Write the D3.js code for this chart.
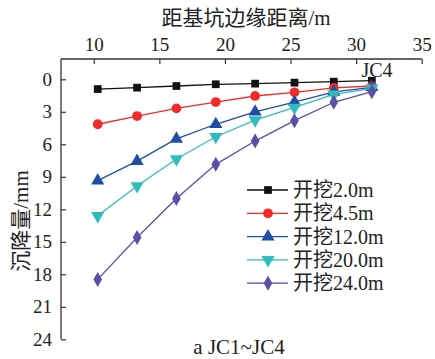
<!DOCTYPE html>
<html>
<head>
<meta charset="utf-8">
<script src="https://d3js.org/d3.v7.min.js"></script>
<style>
body { margin: 0; background: #fff; }
</style>
</head>
<body>
<script>
// Distance from pit edge (m)
const distance = [10.3, 13.3, 16.3, 19.3, 22.3, 25.3, 28.3, 31.2];
// Settlement (mm) per excavation stage
const stages = ["开挖2.0m", "开挖4.5m", "开挖12.0m", "开挖20.0m", "开挖24.0m"];
const s2_0  = [0.9, 0.77, 0.62, 0.46, 0.4, 0.31, 0.22, 0.13];
const s4_5  = [4.15, 3.39, 2.68, 2.1, 1.54, 1.2, 0.8, 0.62];
const s12_0 = [9.35, 7.55, 5.5, 4.15, 3.0, 2.1, 1.17, 0.74];
const s20_0 = [12.6, 9.85, 7.36, 5.3, 3.76, 2.6, 1.39, 0.83];
const s24_0 = [18.47, 14.6, 11.0, 7.85, 5.7, 3.82, 2.12, 1.14];
const xTicks = [10, 15, 20, 25, 30, 35];
const yTicks = [0, 3, 6, 9, 12, 15, 18, 21, 24];

const FONT = "'Liberation Serif', 'Noto Sans CJK SC', serif";
const series = [s2_0, s4_5, s12_0, s20_0, s24_0];
const colors = ["#111111", "#f22a2a", "#1f4ea6", "#2fbcbc", "#5a4ea6"];
const symbols = [d3.symbolSquare, d3.symbolCircle, d3.symbolTriangle, d3.symbolTriangle, d3.symbolDiamond];
const symSize = [60, 75, 75, 75, 65];

const svg = d3.select("body").append("svg")
    .attr("width", 435)
    .attr("height", 359);

const x = d3.scaleLinear().domain([7.5, 35]).range([61, 421.7]);
const y = d3.scaleLinear().domain([0, 24]).range([79.3, 339.3]);
const yTop = 59;

// top axis
const xAxis = d3.axisTop(x).tickValues(xTicks).tickSize(-5).tickPadding(8);
const gx = svg.append("g").attr("transform", `translate(0,${yTop})`).call(xAxis);
gx.select(".domain").remove();
svg.append("line").attr("x1", 61).attr("x2", 421.7).attr("y1", yTop).attr("y2", yTop)
    .attr("stroke", "#333").attr("stroke-width", 1.3);

// left axis
const yAxis = d3.axisLeft(y).tickValues(yTicks).tickSize(-5).tickPadding(9);
const gy = svg.append("g").attr("transform", "translate(61,0)").call(yAxis);
gy.select(".domain").remove();
svg.append("line").attr("x1", 61).attr("x2", 61).attr("y1", yTop).attr("y2", 339.3)
    .attr("stroke", "#333").attr("stroke-width", 1.3);

svg.selectAll(".tick line").attr("stroke", "#333").attr("stroke-width", 1.2);
svg.selectAll(".tick text").style("font-size", "19px").attr("fill", "#222");

// titles
svg.append("text").attr("x", 246).attr("y", 25).attr("text-anchor", "middle")
    .style("font-size", "21px").text("距基坑边缘距离/m");
svg.append("text").attr("transform", "translate(28,221) rotate(-90)").attr("text-anchor", "middle")
    .style("font-size", "21px").text("沉降量/mm");
svg.append("text").attr("x", 239).attr("y", 354).attr("text-anchor", "middle")
    .style("font-size", "21px").text("a JC1~JC4");
svg.append("text").attr("x", 377).attr("y", 77).attr("text-anchor", "middle")
    .style("font-size", "20px").text("JC4");

const line = d3.line().x((d, i) => x(distance[i])).y(d => y(d));

function symPath(k) {
    return d3.symbol().type(symbols[k]).size(symSize[k])();
}
function symTransform(k, px, py) {
    return k === 3 ? `translate(${px},${py}) rotate(180)` : `translate(${px},${py})`;
}

series.forEach((vals, k) => {
    svg.append("path").datum(vals).attr("d", line)
        .attr("fill", "none").attr("stroke", colors[k]).attr("stroke-width", 1.3);
    svg.selectAll(null).data(vals).enter().append("path")
        .attr("d", symPath(k))
        .attr("transform", (d, i) => symTransform(k, x(distance[i]), y(d)))
        .attr("fill", colors[k]);
});

// legend
const legend = svg.append("g");
stages.forEach((name, k) => {
    const ly = 190 + k * 23.3;
    legend.append("line").attr("x1", 247).attr("x2", 288).attr("y1", ly).attr("y2", ly)
        .attr("stroke", colors[k]).attr("stroke-width", 1.3);
    legend.append("path").attr("d", symPath(k)).attr("transform", symTransform(k, 268, ly))
        .attr("fill", colors[k]);
    legend.append("text").attr("x", 293).attr("y", ly + 7)
        .style("font-size", "20px").text(name);
});

// force serif/CJK font on every text (d3 axis sets sans-serif on its groups)
svg.selectAll("text").style("font-family", FONT).style("fill", "#222");
</script>
</body>
</html>
